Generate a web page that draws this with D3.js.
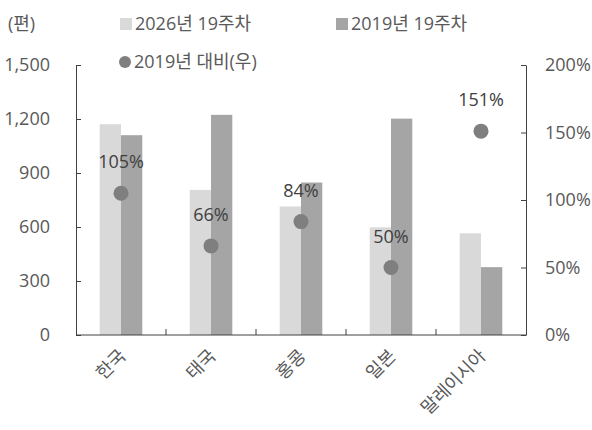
<!DOCTYPE html>
<html>
<head>
<meta charset="utf-8">
<script src="https://cdn.jsdelivr.net/npm/d3@7"></script>
<style>
  body { margin: 0; background: #fff; }
  text { font-family: "Open Sans", "Noto Sans CJK KR", sans-serif; }
</style>
</head>
<body>
<script>
const categories = ["한국", "태국", "홍콩", "일본", "말레이시아"];
const series = ["2026년 19주차", "2019년 19주차"];
const values2026 = [1171, 806, 714, 598, 565];
const values2019 = [1110, 1223, 847, 1202, 377];
const ratioValues = [105, 66, 84, 50, 151];
const leftTicks = [0, 300, 600, 900, 1200, 1500];
const rightTicks = [0, 50, 100, 150, 200];

const w = 592;
const h = 430;
const plotLeft = 76;
const plotRight = 526;
const plotTop = 65;
const plotBottom = 335;
const fontSize = 18;
const textColor = "#595959";
const axisColor = "#404040";
const colors = ["#d9d9d9", "#a5a5a5"];
const dotColor = "#7f7f7f";

const svg = d3.select("body").append("svg").attr("width", w).attr("height", h);

// scales
const x0 = d3.scaleBand().domain(categories).range([plotLeft, plotRight]);
const barW = 21.3;
const x1 = d3.scaleBand().domain(series).range([-barW, barW]);
const yLeft = d3.scaleLinear().domain([0, 1500]).range([plotBottom, plotTop]);
const yRight = d3.scaleLinear().domain([0, 200]).range([plotBottom, plotTop]);

// bars
const rows = categories.map((c, i) => ({ cat: c, vals: [values2026[i], values2019[i]], ratio: ratioValues[i] }));

const groups = svg.append("g").selectAll("g")
  .data(rows)
  .enter()
  .append("g")
  .attr("transform", (d) => `translate(${x0(d.cat) + x0.bandwidth() / 2},0)`);

groups.selectAll("rect")
  .data((d) => d.vals.map((v, j) => ({ key: series[j], v: v, j: j })))
  .enter()
  .append("rect")
  .attr("x", (d) => x1(d.key))
  .attr("width", x1.bandwidth())
  .attr("y", (d) => yLeft(d.v))
  .attr("height", (d) => plotBottom - yLeft(d.v))
  .attr("fill", (d) => colors[d.j]);

// dots + labels
groups.append("circle")
  .attr("cx", 0)
  .attr("cy", (d) => yRight(d.ratio))
  .attr("r", 7.5)
  .attr("fill", dotColor);

groups.append("text")
  .attr("x", 0)
  .attr("y", (d) => yRight(d.ratio) - 25)
  .attr("text-anchor", "middle")
  .attr("font-size", fontSize)
  .attr("fill", "#404040")
  .text((d) => d.ratio + "%");

// left axis
const leftAxis = svg.append("g")
  .attr("transform", `translate(${plotLeft},0)`)
  .call(d3.axisLeft(yLeft).tickValues(leftTicks).tickSize(-5).tickSizeOuter(0).tickPadding(26).tickFormat(d3.format(",")));

// right axis
const rightAxis = svg.append("g")
  .attr("transform", `translate(${plotRight},0)`)
  .call(d3.axisRight(yRight).tickValues(rightTicks).tickSize(-5).tickSizeOuter(0).tickPadding(19).tickFormat((d) => d + "%"));

[leftAxis, rightAxis].forEach((a) => {
  a.select(".domain").attr("stroke", axisColor);
  a.selectAll(".tick line").attr("stroke", axisColor);
  a.selectAll(".tick text").attr("fill", textColor).attr("font-size", fontSize).attr("font-family", null);
});
rightAxis.selectAll(".tick text").attr("text-anchor", "start");

// x axis
const xAxis = svg.append("g").attr("transform", `translate(0,${plotBottom})`);
xAxis.append("line")
  .attr("x1", plotLeft).attr("x2", plotRight)
  .attr("y1", 0).attr("y2", 0)
  .attr("stroke", axisColor);
xAxis.selectAll(".sep")
  .data(categories.slice(1))
  .enter()
  .append("line")
  .attr("x1", (d) => x0(d)).attr("x2", (d) => x0(d))
  .attr("y1", 0).attr("y2", -6)
  .attr("stroke", axisColor);
xAxis.selectAll(".cat")
  .data(categories)
  .enter()
  .append("text")
  .attr("text-anchor", "end")
  .attr("font-size", fontSize)
  .attr("fill", textColor)
  .attr("transform", (d) => `translate(${x0(d) + x0.bandwidth() / 2 + 6},${22}) rotate(-45)`)
  .text((d) => d);

// unit
svg.append("text")
  .attr("x", 8).attr("y", 30)
  .attr("font-size", fontSize)
  .attr("fill", textColor)
  .text("(편)");

// legend
const legendItems = [
  { label: series[0], x: 120, y: 24, type: "rect", color: colors[0] },
  { label: series[1], x: 336, y: 24, type: "rect", color: colors[1] },
  { label: "2019년 대비(우)", x: 119, y: 62, type: "circle", color: dotColor }
];
const legend = svg.append("g").selectAll("g")
  .data(legendItems)
  .enter()
  .append("g")
  .attr("transform", (d) => `translate(${d.x},${d.y})`);
legend.filter((d) => d.type === "rect")
  .append("rect")
  .attr("x", 0).attr("y", -6)
  .attr("width", 12).attr("height", 12)
  .attr("fill", (d) => d.color);
legend.filter((d) => d.type === "circle")
  .append("circle")
  .attr("cx", 6).attr("cy", 0).attr("r", 6)
  .attr("fill", (d) => d.color);
legend.append("text")
  .attr("x", 15).attr("y", 6)
  .attr("font-size", fontSize)
  .attr("fill", textColor)
  .text((d) => d.label);
</script>
</body>
</html>
